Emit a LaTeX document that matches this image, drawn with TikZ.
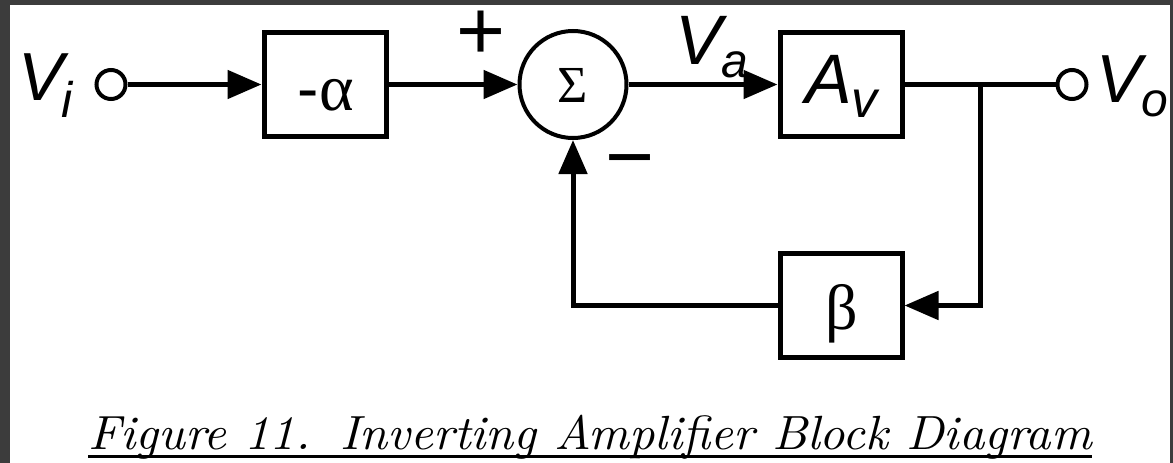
\documentclass[tikz,border=0pt]{standalone}
\usepackage{fontspec}
\newfontfamily\sansf{Liberation Sans}
\newfontfamily\seriff{Liberation Serif}
\newfontfamily\capf{lmroman10-italic.otf}
\usetikzlibrary{arrows.meta}
\definecolor{framegray}{HTML}{3C3C3C}
\tikzset{
  wire/.style={line width=5pt},
  arr/.style={wire,-{Triangle[length=34pt,width=28pt]}},
  blk/.style={draw,line width=5pt,minimum width=122pt,minimum height=104pt,inner sep=0pt},
  term/.style={circle,draw,line width=4pt,minimum size=29pt,inner sep=0pt},
  sumn/.style={circle,draw,line width=4pt,minimum size=107pt,inner sep=0pt},
  lbl/.style={inner sep=0pt,font=\sansf\itshape},
}
\begin{document}
\begin{tikzpicture}[x=1pt,y=-1pt]
\useasboundingbox (0,0) rectangle (1173,463);
\fill[framegray] (0,0) rectangle (1173,463);
\fill[white] (10,5) rectangle (1170,463);

% blocks
\node[term] (vi) at (111,84.5) {};
\node[blk] (alpha) at (325,84.5) {};
\node[anchor=base,inner sep=0pt] (alphat) at (326,110) {\sansf\fontsize{64}{64}\selectfont -\kern1pt\seriff\fontsize{66}{66}\selectfont α};
\node[sumn] (sum) at (573,84.5) {};
\node[anchor=base,inner sep=0pt] (sigma) at (573,102) {\seriff\fontsize{52}{52}\selectfont Σ};
\node[blk] (av) at (841,84.5) {};
\node[term] (vo) at (1072,84.5) {};
\node[blk] (beta) at (841,305.5) {};
\node[anchor=base,inner sep=0pt] (betat) at (842,329) {\seriff\fontsize{64}{64}\selectfont β};
\coordinate (j) at (980,84.5);

% labels
\node[lbl,anchor=base west] (vil) at (18,100) {\fontsize{68}{68}\selectfont V\kern-2pt\raisebox{-17pt}{\fontsize{50}{50}\selectfont i}};
\node[lbl,anchor=base west] (avl) at (805,103) {\fontsize{70}{70}\selectfont A\raisebox{-14pt}{\fontsize{52}{52}\selectfont v}};
\node[lbl,anchor=base west] (val) at (675,64) {\fontsize{70}{70}\selectfont V\raisebox{-13pt}{\fontsize{48}{48}\selectfont a}};
\node[lbl,anchor=base west] (vol) at (1096,102) {\fontsize{68}{68}\selectfont V\raisebox{-14pt}{\fontsize{48}{48}\selectfont o}};
\node[inner sep=0pt,anchor=base] (plus) at (481,59) {\sansf\fontsize{84}{84}\selectfont +};
\node[inner sep=0pt,anchor=base] (minus) at (630,185) {\sansf\fontsize{84}{84}\selectfont −};

% connectors
\draw[arr] (vi.east) -- (alpha.west);
\draw[arr] (alpha.east) -- (sum.west);
\draw[arr] (sum.east) -- (av.west);
\draw[wire] (av.east) -- (vo.west);
\draw[arr] (j) |- (beta.east);
\draw[arr] (beta.west) -| (sum.south);

% caption
\node[anchor=base west,inner sep=0pt] (cap) at (88,449) {\capf\fontsize{48}{50}\selectfont\scalebox{1.035}[1]{Figure 11.\hspace{0.6em}Inverting Amplifier Block Diagram}};
\draw[line width=2.5pt] ([yshift=-7.5pt]cap.base west) -- ([yshift=-7.5pt]cap.base east);
\end{tikzpicture}
\end{document}
